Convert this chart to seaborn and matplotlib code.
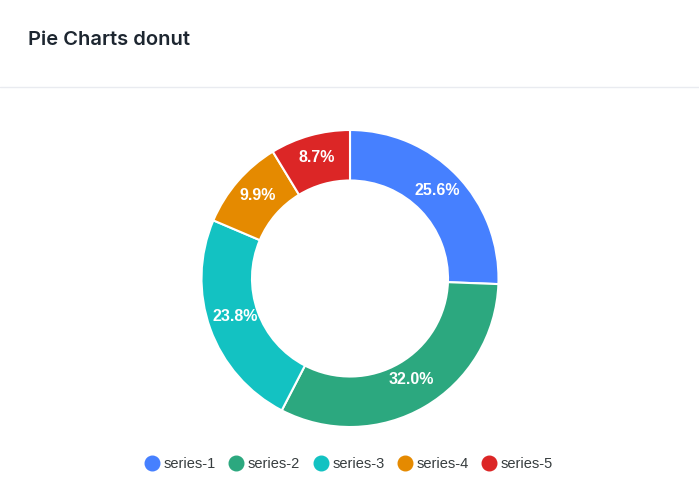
import matplotlib
matplotlib.use("Agg")
import matplotlib.pyplot as plt
from matplotlib.lines import Line2D
import seaborn as sns

# data
labels = ["series-1", "series-2", "series-3", "series-4", "series-5"]
values = [25.6, 32.0, 23.8, 9.9, 8.7]
colors = ["#4680FF", "#2CA87F", "#13C2C2", "#E58A00", "#DC2626"]

sns.set_theme(style="white")
plt.rcParams['font.family'] = ['Liberation Sans', 'DejaVu Sans']

W, H = 699, 504
fig = plt.figure(figsize=(W / 100, H / 100), dpi=100)
fig.patch.set_facecolor("white")

# card header
fig.text(28 / W, 1 - 40 / H, "Pie Charts donut", family=["Inter", "DejaVu Sans"],
         fontsize=14.5, fontweight="semibold", color="#1d2630", va="center", ha="left")
fig.add_artist(Line2D([0, 1], [1 - 87 / H, 1 - 87 / H], color="#e9ebf0", lw=1))

# donut
cx, cy, r = 350, 278.5, 148.5
ax = fig.add_axes([(cx - r) / W, (H - cy - r) / H, 2 * r / W, 2 * r / H])
wedges, texts, autotexts = ax.pie(
    values, colors=colors, startangle=90, counterclock=False,
    autopct="%.1f%%", pctdistance=0.82, radius=1,
    wedgeprops=dict(width=0.34, edgecolor="white", linewidth=1.5),
    textprops=dict(color="white", fontsize=11.5, fontweight="bold"))
# nudge labels up a little
for t in autotexts:
    x, y = t.get_position()
    t.set_position((x, y + 0.025))
ax.set_xlim(-1, 1)
ax.set_ylim(-1, 1)
ax.set_aspect("equal")
ax.axis("off")

# legend
handles = [Line2D([], [], marker="o", linestyle="", markersize=10.5,
                  markerfacecolor=c, markeredgecolor=c) for c in colors]
fig.legend(handles, labels, loc="center", bbox_to_anchor=(349 / W, 1 - 464 / H),
           ncol=5, frameon=False, fontsize=10.5, handletextpad=0.3,
           columnspacing=0.9, handlelength=1.0, labelcolor="#373d3f")

fig.savefig("out.png", dpi=100, facecolor="white")
